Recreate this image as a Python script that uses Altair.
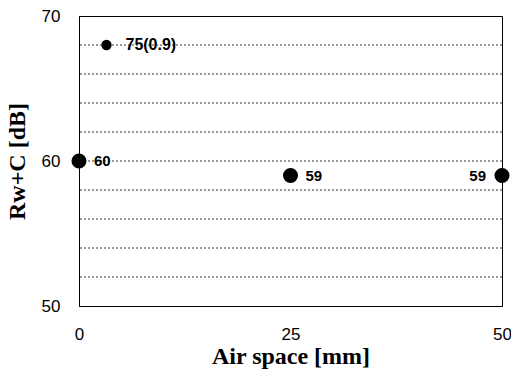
import altair as alt
import pandas as pd

air_space = [0, 25, 50, 3.25]
rw_c = [60, 59, 59, 68]
labels = ["60", "59", "59", "75(0.9)"]
sizes = ["big", "big", "big", "small"]
label_side = ["right", "right", "left", "right"]
grid_values = [52, 54, 56, 58, 60, 62, 64, 66, 68]

df = pd.DataFrame({"x": air_space, "y": rw_c, "label": labels,
                   "size": sizes, "side": label_side})
grid_df = pd.DataFrame({"g": grid_values})

x_axis = alt.Axis(values=[0, 25, 50], title="Air space [mm]",
                  grid=False, ticks=False, labelPadding=20, labelFlush=False,
                  labelFont="Liberation Sans", labelFontSize=17,
                  labelColor="black", titleFont="Liberation Serif",
                  titleFontSize=24, titleFontWeight="bold",
                  titleColor="black", titlePadding=2,
                  domainColor="black")
y_axis = alt.Axis(values=[50, 60, 70], title="Rw+C [dB]",
                  grid=False, ticks=False, labelPadding=19, labelFlush=False,
                  labelFont="Liberation Sans", labelFontSize=17,
                  labelColor="black", titleFont="Liberation Serif",
                  titleFontSize=24, titleFontWeight="bold",
                  titleColor="black", titlePadding=12,
                  domainColor="black")
y_scale = alt.Scale(domain=[50, 70], nice=False)
x_scale = alt.Scale(domain=[0, 50], nice=False)

grid = alt.Chart(grid_df).mark_rule(color="#333", strokeDash=[2, 2],
                                    strokeWidth=1).encode(
    y=alt.Y("g:Q", scale=y_scale, axis=y_axis))

base = alt.Chart(df)

points = base.mark_circle(color="black", opacity=1).encode(
    x=alt.X("x:Q", scale=x_scale, axis=x_axis),
    y=alt.Y("y:Q", scale=y_scale, axis=y_axis),
    size=alt.Size("size:N", scale=alt.Scale(domain=["big", "small"], range=[227, 106]),
                  legend=None))

right_big = base.transform_filter(
    (alt.datum.side == "right") & (alt.datum.size == "big")).mark_text(
    align="left", dx=15, font="Liberation Sans", fontSize=15,
    fontWeight="bold", color="black").encode(x="x:Q", y="y:Q", text="label:N")

right_small = base.transform_filter(
    (alt.datum.side == "right") & (alt.datum.size == "small")).mark_text(
    align="left", dx=19, font="Liberation Sans", fontSize=16,
    fontWeight="bold", color="black").encode(x="x:Q", y="y:Q", text="label:N")

left_text = base.transform_filter(alt.datum.side == "left").mark_text(
    align="right", dx=-16, font="Liberation Sans", fontSize=15,
    fontWeight="bold", color="black").encode(x="x:Q", y="y:Q", text="label:N")

chart = alt.layer(grid, points, right_big, right_small, left_text).properties(
    width=423, height=290,
    autosize=alt.AutoSizeParams(type="none"),
    padding={"left": 79, "top": 16, "right": 9, "bottom": 68},
    background="white",
).configure_view(stroke="black", strokeWidth=1)

chart.save("out.html", embed_options={"renderer": "svg", "actions": False})
